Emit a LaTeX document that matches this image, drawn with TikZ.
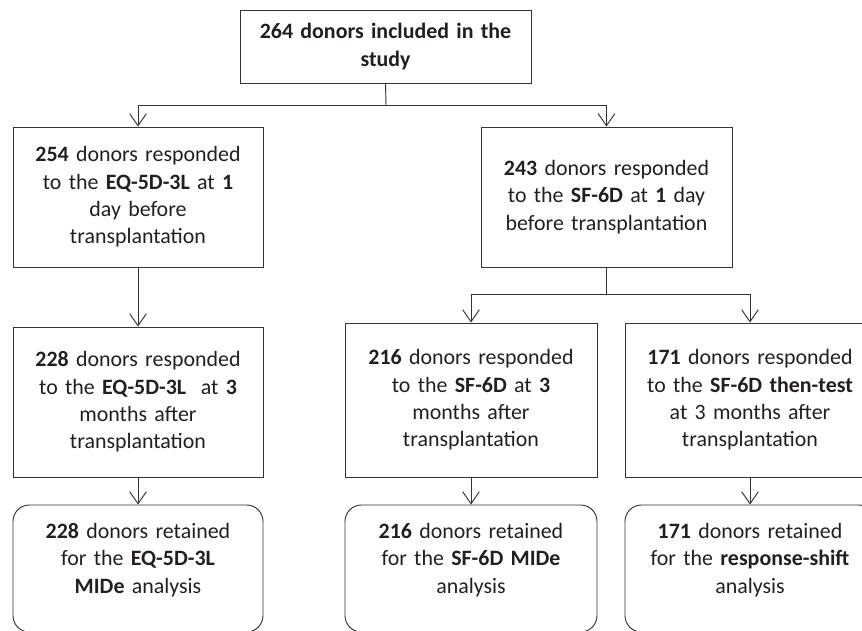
\documentclass[tikz,border=0pt]{standalone}
\usepackage{fontspec}
\setmainfont{Carlito}
\usepackage{xcolor}
\usepackage{tikz}
\usetikzlibrary{arrows.meta}

\definecolor{inkgray}{HTML}{231F20}
\definecolor{linegray}{HTML}{333333}

\begin{document}
\begin{tikzpicture}[x=0.03cm, y=-0.03cm,
    font=\fontsize{18.7}{23.4}\selectfont, text=inkgray,
    box/.style={draw=linegray, line width=0.8pt, align=center, text width=6.9cm,
        minimum width=7.5cm, inner sep=0pt},
    endbox/.style={box, rounded corners=14pt, minimum height=3.81cm},
    arr/.style={draw=linegray, line width=0.8pt, -{Straight Barb[length=3.6mm, width=5mm, line width=0.8pt]}},
    link/.style={draw=linegray, line width=0.8pt}]
    \useasboundingbox (0,0) rectangle (862,630);

    % flow chart of donors
    \node[box, text width=8.4cm, minimum width=8.73cm, minimum height=2.19cm] (top) at (385.5,46.5)
        {\textbf{264 donors included in the}\\\textbf{study}};

    \node[box, minimum height=4.2cm] (eqpre) at (138,197)
        {\textbf{254} donors responded\\to the \textbf{EQ-5D-3L} at \textbf{1}\\day before\\transplantation};
    \node[box, minimum width=7.53cm, minimum height=4.2cm] (sfpre) at (606.5,197)
        {\textbf{243} donors responded\\to the \textbf{SF-6D} at \textbf{1} day\\before transplantation};

    \node[box, minimum height=4.5cm] (eqpost) at (138,402)
        {\textbf{228} donors responded\\to the \textbf{EQ-5D-3L}\ \ at \textbf{3}\\months after\\transplantation};
    \node[box, minimum width=7.56cm, minimum height=4.62cm] (sfpost) at (471,400)
        {\textbf{216} donors responded\\to the \textbf{SF-6D} at \textbf{3}\\months after\\transplantation};
    \node[box, minimum height=4.62cm] (then) at (750,400)
        {\textbf{171} donors responded\\to the \textbf{SF-6D then-test}\\at 3 months after\\transplantation};

    \node[endbox] (eqend) at (138,568.5)
        {\textbf{228} donors retained\\for the \textbf{EQ-5D-3L}\\\textbf{MIDe} analysis\par\vspace{14.5pt}};
    \node[endbox, minimum width=7.56cm] (sfend) at (471,568.5)
        {\textbf{216} donors retained\\for the \textbf{SF-6D MIDe}\\analysis\par\vspace{14.5pt}};
    \node[endbox] (rsend) at (750,568.5)
        {\textbf{171} donors retained\\for the \textbf{response-shift}\\analysis\par\vspace{14.5pt}};

    \coordinate (fork1) at (386,105);
    \coordinate (fork2) at (606.5,294);

    \draw[link] (top.south) -- (fork1);
    \draw[arr] (fork1) -| (eqpre);
    \draw[arr] (fork1) -| (sfpre);

    \draw[link] (sfpre.south) -- (fork2);
    \draw[arr] (fork2) -| (sfpost);
    \draw[arr] (fork2) -| (then);

    \draw[arr] (eqpre) -- (eqpost);
    \draw[arr] (eqpost) -- (eqend);
    \draw[arr] (sfpost) -- (sfend);
    \draw[arr] (then) -- (rsend);
\end{tikzpicture}
\end{document}
